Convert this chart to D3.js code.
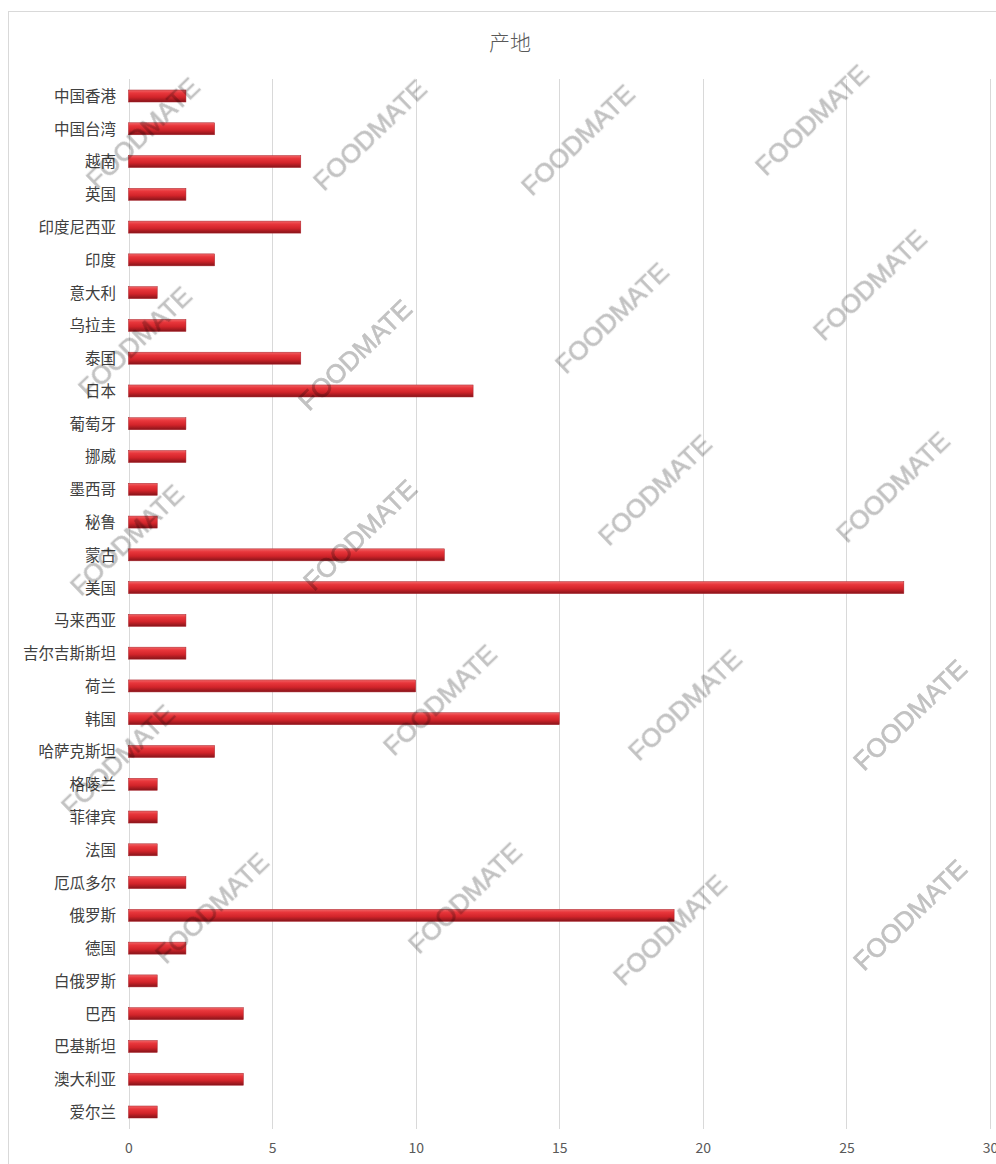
<!DOCTYPE html>
<html>
<head>
<meta charset="utf-8">
<script src="https://cdn.jsdelivr.net/npm/d3@7"></script>
<style>
  html, body { margin: 0; padding: 0; background: #fff; }
  svg { display: block; }
  .watermark { mix-blend-mode: multiply; }
</style>
</head>
<body>
<div id="chart"></div>
<script>
// 产地 — number of items by country / region of origin
const categories = [
  "中国香港", "中国台湾", "越南", "英国", "印度尼西亚", "印度", "意大利", "乌拉圭",
  "泰国", "日本", "葡萄牙", "挪威", "墨西哥", "秘鲁", "蒙古", "美国",
  "马来西亚", "吉尔吉斯斯坦", "荷兰", "韩国", "哈萨克斯坦", "格陵兰", "菲律宾", "法国",
  "厄瓜多尔", "俄罗斯", "德国", "白俄罗斯", "巴西", "巴基斯坦", "澳大利亚", "爱尔兰"
];
const counts = [
  2, 3, 6, 2, 6, 3, 1, 2,
  6, 12, 2, 2, 1, 1, 11, 27,
  2, 2, 10, 15, 3, 1, 1, 1,
  2, 19, 2, 1, 4, 1, 4, 1
];
const xTicks = [0, 5, 10, 15, 20, 25, 30];
const titleText = "产地";
const watermarkText = "FOODMATE";
// watermark centres in page pixels
const watermarkX = [143, 370, 578, 812, 135, 355, 612, 870, 127, 360, 655, 893, 118, 440, 685, 910, 212, 465, 670, 910];
const watermarkY = [133, 135, 140, 120, 342, 355, 318, 285, 540, 535, 490, 487, 760, 700, 705, 715, 908, 898, 930, 915];

const W = 996, H = 1164;
const svg = d3.select("#chart").append("svg")
  .attr("width", W).attr("height", H);

// bar gradient (light top edge, deep red body, dark bottom edge)
const defs = svg.append("defs");
const grad = defs.append("linearGradient")
  .attr("id", "barGrad").attr("x1", 0).attr("y1", 0).attr("x2", 0).attr("y2", 1);
grad.append("stop").attr("offset", "0%").attr("stop-color", "#f06466");
grad.append("stop").attr("offset", "25%").attr("stop-color", "#e8363b");
grad.append("stop").attr("offset", "60%").attr("stop-color", "#d2242a");
grad.append("stop").attr("offset", "100%").attr("stop-color", "#86141a");

// chart frame
svg.append("rect")
  .attr("x", 8.5).attr("y", 11.5)
  .attr("width", 1100).attr("height", 1300)
  .attr("fill", "#fff").attr("stroke", "#d9d9d9");

const x = d3.scaleLinear().domain([0, 30]).range([128.5, 990]);
const y = d3.scalePoint().domain(categories).range([96, 1112]);
const barH = 12;
const gridTop = 79, gridBottom = 1129;

// vertical gridlines
svg.append("g").selectAll("line").data(xTicks).join("line")
  .attr("x1", d => Math.round(x(d)) + 0.5).attr("x2", d => Math.round(x(d)) + 0.5)
  .attr("y1", gridTop).attr("y2", gridBottom)
  .attr("stroke", "#d9d9d9").attr("stroke-width", 1);

// x axis tick labels
const xAxis = d3.axisBottom(x).tickValues(xTicks).tickSize(0).tickPadding(0);
const gx = svg.append("g").attr("transform", `translate(0, ${1142})`).call(xAxis);
gx.select(".domain").remove();
gx.selectAll("text")
  .attr("font-family", "'Noto Sans CJK SC', 'Noto Sans', sans-serif")
  .attr("font-size", 14).attr("fill", "#595959").attr("dy", "0.35em").attr("y", 6);

// bars
svg.append("g").selectAll("rect").data(categories).join("rect")
  .attr("x", x(0))
  .attr("y", d => y(d) - barH / 2)
  .attr("width", (d, i) => x(counts[i]) - x(0))
  .attr("height", barH)
  .attr("fill", "url(#barGrad)")
  .attr("stroke", "#a8222a").attr("stroke-width", 0.5);

// category labels
const yAxis = d3.axisLeft(y).tickSize(0).tickPadding(0);
const gy = svg.append("g").attr("transform", `translate(${116}, 0)`).call(yAxis);
gy.select(".domain").remove();
gy.selectAll("text")
  .attr("font-family", "'Noto Sans CJK SC', sans-serif")
  .attr("font-size", 15.5).attr("fill", "#404040").attr("dy", "0.35em");

// title
svg.append("text")
  .attr("x", 510).attr("y", 50)
  .attr("text-anchor", "middle")
  .attr("font-family", "'Noto Sans CJK SC', sans-serif")
  .attr("font-weight", 300)
  .attr("font-size", 21).attr("fill", "#595959")
  .text(titleText);

// watermark overlay
svg.append("g").attr("class", "watermark").selectAll("text").data(watermarkX).join("text")
  .attr("transform", (d, i) => `translate(${d}, ${watermarkY[i]}) rotate(-44)`)
  .attr("text-anchor", "middle").attr("dy", "0.35em")
  .attr("font-family", "'Liberation Sans', Arial, sans-serif")
  .attr("font-size", 26)
  .attr("fill", "#c2c2c2")
  .attr("stroke", "#c2c2c2").attr("stroke-width", 0.7)
  .text(watermarkText);
</script>
</body>
</html>
